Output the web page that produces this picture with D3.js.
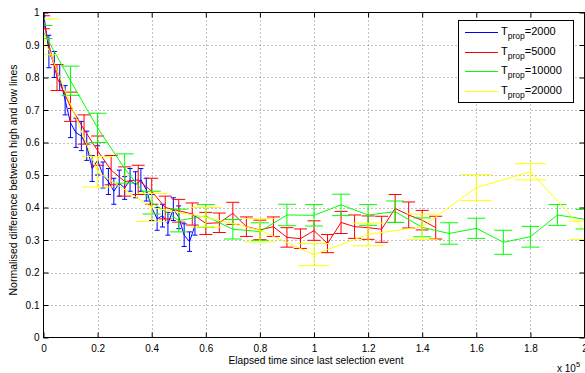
<!DOCTYPE html>
<html>
<head>
<meta charset="utf-8">
<script src="https://cdn.jsdelivr.net/npm/d3@7"></script>
<style>
  body { margin: 0; background: #fff; }
  svg { display: block; font-family: "Liberation Sans", Arial, sans-serif; }
</style>
</head>
<body>
<div id="chart"></div>
<script>
// x values are in units of 1e5 (axis multiplier shown bottom-right)
const xTicks = [0, 0.2, 0.4, 0.6, 0.8, 1, 1.2, 1.4, 1.6, 1.8, 2];
const yTicks = [0, 0.1, 0.2, 0.3, 0.4, 0.5, 0.6, 0.7, 0.8, 0.9, 1];

// T_prop = 2000
const blueX = [0, 0.02, 0.04, 0.06, 0.08, 0.10, 0.12, 0.14, 0.16, 0.18, 0.20, 0.22, 0.24, 0.26, 0.28,
               0.30, 0.32, 0.34, 0.36, 0.38, 0.40, 0.42, 0.44, 0.46, 0.48, 0.50, 0.52, 0.54, 0.56];
const blueY = [1.00, 0.88, 0.84, 0.80, 0.73, 0.66, 0.63, 0.62, 0.59, 0.52, 0.545, 0.50, 0.48, 0.45, 0.475,
               0.46, 0.485, 0.47, 0.485, 0.455, 0.40, 0.365, 0.375, 0.35, 0.395, 0.37, 0.315, 0.295, 0.345];
const blueE = [0.01, 0.05, 0.04, 0.04, 0.045, 0.045, 0.045, 0.045, 0.045, 0.04, 0.045, 0.04, 0.04, 0.04, 0.04,
               0.035, 0.035, 0.04, 0.035, 0.035, 0.04, 0.035, 0.035, 0.035, 0.035, 0.035, 0.035, 0.03, 0.03];

// T_prop = 5000
const redX = [0, 0.05, 0.10, 0.15, 0.20, 0.25, 0.30, 0.35, 0.40, 0.45, 0.50, 0.55, 0.60, 0.65, 0.70,
              0.75, 0.80, 0.85, 0.90, 0.95, 1.00, 1.05, 1.10, 1.15, 1.20, 1.25, 1.30, 1.35, 1.40, 1.45];
const redY = [0.97, 0.80, 0.71, 0.64, 0.575, 0.515, 0.48, 0.485, 0.45, 0.40, 0.39, 0.38, 0.351, 0.353, 0.382,
              0.341, 0.331, 0.341, 0.308, 0.304, 0.329, 0.289, 0.354, 0.341, 0.338, 0.333, 0.397, 0.377, 0.361, 0.338];
const redE = [0.02, 0.04, 0.045, 0.045, 0.045, 0.045, 0.045, 0.045, 0.04, 0.035, 0.035, 0.034, 0.034, 0.03, 0.034,
              0.03, 0.03, 0.03, 0.03, 0.03, 0.03, 0.028, 0.034, 0.036, 0.036, 0.04, 0.043, 0.04, 0.03, 0.035];

// T_prop = 10000
const greenX = [0, 0.1, 0.2, 0.3, 0.4, 0.5, 0.6, 0.7, 0.8, 0.9, 1.0, 1.1, 1.2, 1.3, 1.4, 1.5, 1.6, 1.7, 1.8, 1.9, 2.0];
const greenY = [0.94, 0.79, 0.645, 0.52, 0.415, 0.36, 0.374, 0.333, 0.326, 0.377, 0.376, 0.408, 0.377, 0.387,
                0.339, 0.32, 0.336, 0.293, 0.31, 0.377, 0.364];
const greenE = [0.02, 0.045, 0.045, 0.045, 0.035, 0.035, 0.035, 0.03, 0.027, 0.033, 0.033, 0.033, 0.032, 0.033,
                0.029, 0.033, 0.031, 0.037, 0.032, 0.032, 0.03];

// T_prop = 20000
const yellowX = [0, 0.2, 0.4, 0.6, 0.8, 1.0, 1.2, 1.4, 1.6, 1.8, 2.0];
const yellowY = [0.925, 0.51, 0.40, 0.37, 0.33, 0.255, 0.317, 0.341, 0.461, 0.51, 0.33];
const yellowE = [0.055, 0.047, 0.043, 0.03, 0.036, 0.034, 0.035, 0.039, 0.04, 0.025, 0.028];

const seriesNames = ["2000", "5000", "10000", "20000"];

const series = [
    {name: seriesNames[0], xs: blueX, ys: blueY, es: blueE, color: "#0000ff", cap: 2.5},
    {name: seriesNames[1], xs: redX, ys: redY, es: redE, color: "#ff0000", cap: 6.5},
    {name: seriesNames[2], xs: greenX, ys: greenY, es: greenE, color: "#00ff00", cap: 9},
    {name: seriesNames[3], xs: yellowX, ys: yellowY, es: yellowE, color: "#ffff00", cap: 15.5}
];

const WIDTH = 585, HEIGHT = 373;
const L = 43.5, R = 584.5, T = 12.5, B = 337.5;

const svg = d3.select("#chart")
    .append("svg")
    .attr("width", WIDTH)
    .attr("height", HEIGHT);

const x = d3.scaleLinear().domain([0, 2]).range([L, R]);
const y = d3.scaleLinear().domain([0, 1]).range([B, T]);

svg.append("defs").append("clipPath").attr("id", "plotclip")
    .append("rect").attr("x", L).attr("y", T).attr("width", R - L).attr("height", B - T);

// dotted grid
const grid = svg.append("g").attr("stroke", "#666").attr("stroke-width", 0.8).attr("stroke-dasharray", "1,3");
grid.selectAll("line.gx")
    .data(xTicks.slice(1, -1))
    .join("line")
    .attr("x1", d => Math.round(x(d)) + 0.5).attr("x2", d => Math.round(x(d)) + 0.5)
    .attr("y1", T).attr("y2", B);
grid.selectAll("line.gy")
    .data(yTicks.slice(1, -1))
    .join("line")
    .attr("class", "gy")
    .attr("x1", L).attr("x2", R)
    .attr("y1", d => Math.round(y(d)) + 0.5).attr("y2", d => Math.round(y(d)) + 0.5);

// data
const plot = svg.append("g").attr("clip-path", "url(#plotclip)");
const line = d3.line().x(d => x(d[0])).y(d => y(d[1]));

series.forEach(s => {
    const pts = s.xs.map((v, i) => [v, s.ys[i], s.es[i]]);
    const g = plot.append("g").attr("stroke", s.color).attr("stroke-width", 1).attr("fill", "none");
    g.append("path").datum(pts).attr("d", line);
    const bars = g.selectAll("g.eb").data(pts).join("g");
    bars.append("line")
        .attr("x1", d => x(d[0])).attr("x2", d => x(d[0]))
        .attr("y1", d => y(d[1] - d[2])).attr("y2", d => y(d[1] + d[2]));
    bars.append("line")
        .attr("x1", d => x(d[0]) - s.cap).attr("x2", d => x(d[0]) + s.cap)
        .attr("y1", d => y(d[1] + d[2])).attr("y2", d => y(d[1] + d[2]));
    bars.append("line")
        .attr("x1", d => x(d[0]) - s.cap).attr("x2", d => x(d[0]) + s.cap)
        .attr("y1", d => y(d[1] - d[2])).attr("y2", d => y(d[1] - d[2]));
});

// axes with inward ticks on all four sides
const fmt = d3.format("~g");
const styleAxis = g => {
    g.select(".domain").remove();
    g.selectAll("text").attr("font-size", 10).attr("fill", "#000").attr("font-family", "Liberation Sans, Arial, sans-serif");
    g.selectAll("line").attr("stroke", "#000");
};
svg.append("g").attr("transform", `translate(0,${B})`)
    .call(d3.axisBottom(x).tickValues(xTicks).tickFormat(fmt).tickSizeInner(-5).tickSizeOuter(0).tickPadding(7))
    .call(styleAxis);
svg.append("g").attr("transform", `translate(0,${T})`)
    .call(d3.axisTop(x).tickValues(xTicks).tickFormat("").tickSizeInner(-5).tickSizeOuter(0))
    .call(styleAxis);
svg.append("g").attr("transform", `translate(${L},0)`)
    .call(d3.axisLeft(y).tickValues(yTicks).tickFormat(fmt).tickSizeInner(-5).tickSizeOuter(0).tickPadding(4))
    .call(styleAxis);
svg.append("g").attr("transform", `translate(${R},0)`)
    .call(d3.axisRight(y).tickValues(yTicks).tickFormat("").tickSizeInner(-5).tickSizeOuter(0))
    .call(styleAxis);

svg.append("rect")
    .attr("x", L).attr("y", T).attr("width", R - L).attr("height", B - T)
    .attr("fill", "none").attr("stroke", "#000").attr("stroke-width", 1);

// axis labels
svg.append("text")
    .attr("x", 316).attr("y", 364)
    .attr("text-anchor", "middle").attr("font-size", 10.2)
    .text("Elapsed time since last selection event");

svg.append("text")
    .attr("transform", `translate(17,${(T + B) / 2 + 5}) rotate(-90)`)
    .attr("text-anchor", "middle").attr("font-size", 10.5)
    .text("Normalised difference between high and low lines");

const mult = svg.append("text").attr("x", 557).attr("y", 372).attr("font-size", 10);
mult.append("tspan").text("x 10");
mult.append("tspan").attr("dy", -5).attr("font-size", 7.5).text("5");

// legend
const leg = svg.append("g");
leg.append("rect")
    .attr("x", 458.5).attr("y", 20.5).attr("width", 115).attr("height", 82)
    .attr("fill", "#fff").attr("stroke", "#000").attr("stroke-width", 1);
series.forEach((s, i) => {
    const ly = Math.round(32 + i * 19.5) + 0.5;
    leg.append("line")
        .attr("x1", 465).attr("x2", 498).attr("y1", ly).attr("y2", ly)
        .attr("stroke", s.color).attr("stroke-width", 1.2);
    const t = leg.append("text").attr("x", 501).attr("y", ly + 2).attr("font-size", 11);
    t.append("tspan").text("T");
    t.append("tspan").attr("dy", 4).attr("font-size", 8.5).text("prop");
    t.append("tspan").attr("dy", -4).text("=" + s.name);
});
</script>
</body>
</html>
